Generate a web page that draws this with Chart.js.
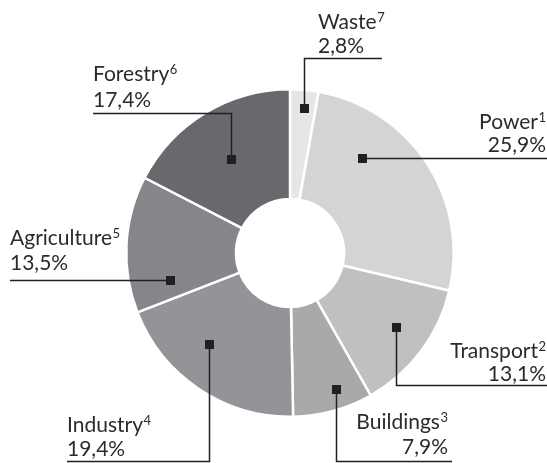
<!DOCTYPE html>
<html>
<head>
<meta charset="utf-8">
<script src="https://cdn.jsdelivr.net/npm/chart.js@4.4.1/dist/chart.umd.min.js"></script>
<style>
html,body{margin:0;padding:0;background:#fff;}
#wrap{width:547px;height:463px;position:relative;}
</style>
</head>
<body>
<div id="wrap"><canvas id="c" width="547" height="463"></canvas></div>
<script>
// ---- data ----
const categories = ['Waste', 'Power', 'Transport', 'Buildings', 'Industry', 'Agriculture', 'Forestry'];
const footnotes  = ['7', '1', '2', '3', '4', '5', '6'];
const shares     = [2.8, 25.9, 13.1, 7.9, 19.4, 13.5, 17.4];
const colors     = ['#e5e6e8', '#d3d4d6', '#bfc0c2', '#a8a9ab', '#939497', '#858689', '#68696c'];

// ---- label layout (annotation styling, not data) ----
// frac: position along the arc's angle, rad: position between inner and outer radius
const layout = [
  {frac:0.56, rad:0.84, path:'v', toY:58,  toX:382, align:'left',  tx:318, b1:29,  b2:53},
  {frac:0.29, rad:0.59, path:'h',           toX:547, align:'right', tx:546, b1:129, b2:152},
  {frac:0.46, rad:0.69, path:'v', toY:385, toX:547, align:'right', tx:546, b1:358, b2:381},
  {frac:0.38, rad:0.82, path:'v', toY:461, toX:452, align:'right', tx:448, b1:429, b2:454},
  {frac:0.61, rad:0.62, path:'v', toY:461, toX:67,  align:'left',  tx:67,  b1:432, b2:456},
  {frac:0.18, rad:0.63, path:'h',           toX:10,  align:'left',  tx:10,  b1:245, b2:270},
  {frac:0.49, rad:0.52, path:'v', toY:113, toX:93,  align:'left',  tx:93,  b1:81,  b2:107}
];

const FONT = 'Lato, "Open Sans", sans-serif';
const TEXT = '#2b2b2b';
const INK = '#231f20';

function fmt(v){ return v.toFixed(1).replace('.', ',') + '%'; }

const leaderPlugin = {
  id: 'leaders',
  afterDatasetsDraw(chart){
    const ctx = chart.ctx;
    const meta = chart.getDatasetMeta(0);
    ctx.save();
    meta.data.forEach((arc, i) => {
      const L = layout[i];
      const p = arc.getProps(['x','y','startAngle','endAngle','innerRadius','outerRadius'], true);
      const a = p.startAngle + L.frac * (p.endAngle - p.startAngle);
      const r = p.innerRadius + L.rad * (p.outerRadius - p.innerRadius);
      const mx = Math.round(p.x + r * Math.cos(a)) + 0.5;
      const my = Math.round(p.y + r * Math.sin(a)) + 0.5;
      ctx.strokeStyle = INK;
      ctx.lineWidth = 1.5;
      ctx.beginPath();
      ctx.moveTo(mx, my);
      if (L.path === 'v') {
        ctx.lineTo(mx, L.toY + 0.5);
        ctx.lineTo(L.toX, L.toY + 0.5);
      } else {
        ctx.lineTo(L.toX, my);
      }
      ctx.stroke();
      ctx.fillStyle = INK;
      ctx.fillRect(mx - 4.5, my - 4.5, 9, 9);

      // texts
      ctx.fillStyle = TEXT;
      ctx.textBaseline = 'alphabetic';
      ctx.textAlign = 'left';
      const mainFont = '21px ' + FONT;
      const supFont = '13px ' + FONT;
      ctx.font = mainFont;
      const wName = ctx.measureText(categories[i]).width;
      ctx.font = supFont;
      const wSup = ctx.measureText(footnotes[i]).width;
      ctx.font = mainFont;
      const val = fmt(shares[i]);
      const wVal = ctx.measureText(val).width;
      let x1, x2;
      if (L.align === 'right') {
        x1 = L.tx - (wName + 0.5 + wSup);
        x2 = L.tx - wVal;
      } else {
        x1 = L.tx; x2 = L.tx;
      }
      ctx.font = mainFont;
      ctx.fillText(categories[i], x1, L.b1);
      ctx.font = supFont;
      ctx.fillText(footnotes[i], x1 + wName + 0.5, L.b1 - 7);
      ctx.font = mainFont;
      ctx.fillText(val, x2, L.b2);
    });
    ctx.restore();
  }
};

new Chart(document.getElementById('c'), {
  type: 'doughnut',
  data: {
    labels: categories,
    datasets: [{
      data: shares,
      backgroundColor: colors,
      borderColor: '#ffffff',
      borderWidth: 2.5,
      hoverOffset: 0
    }]
  },
  options: {
    responsive: false,
    animation: false,
    cutout: '33%',
    rotation: 0,
    layout: { padding: { left: 125, right: 92, top: 88, bottom: 45 } },
    plugins: {
      legend: { display: false },
      tooltip: { enabled: false }
    },
    events: []
  },
  plugins: [leaderPlugin]
});
</script>
</body>
</html>
